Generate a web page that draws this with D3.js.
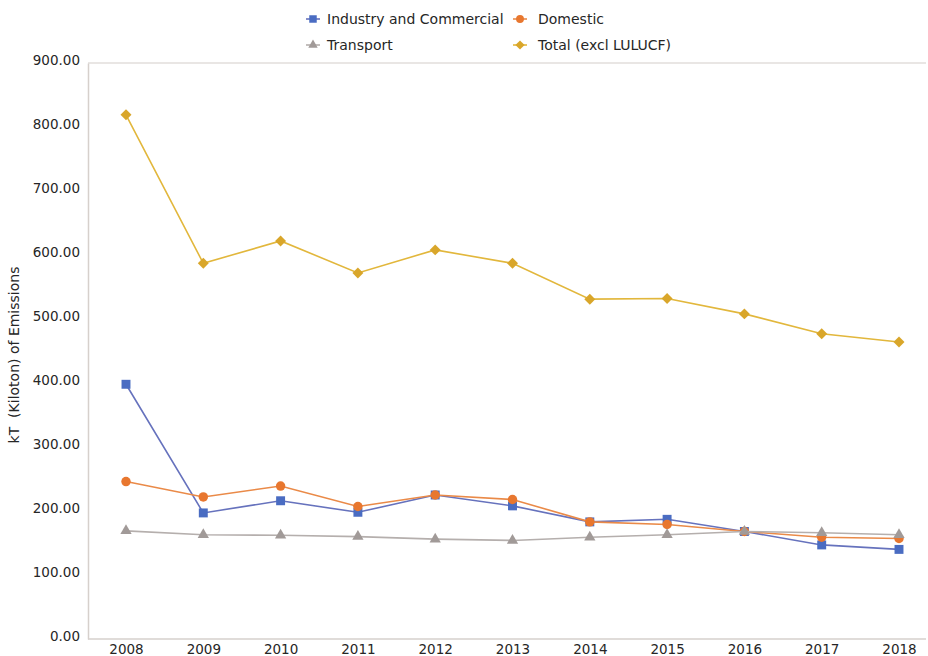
<!DOCTYPE html>
<html>
<head>
<meta charset="utf-8">
<script src="https://cdn.jsdelivr.net/npm/d3@7"></script>
<style>
  body { margin: 0; background: #fff; }
  svg text { font-family: "DejaVu Sans", sans-serif; fill: #262626; }
</style>
</head>
<body>
<svg id="chart" width="928" height="656"></svg>
<script>
// years along the x axis
const years = [2008, 2009, 2010, 2011, 2012, 2013, 2014, 2015, 2016, 2017, 2018];
const industry = [398, 197, 216, 198, 225, 208, 183, 187, 168, 147, 140];
const domestic = [246, 222, 239, 207, 225, 218, 183, 179, 168, 159, 157];
const transport = [169, 163, 162, 160, 156, 154, 159, 163, 168, 166, 163];
const total = [819, 587, 622, 572, 608, 587, 531, 532, 508, 477, 464];
const yTicks = [0, 100, 200, 300, 400, 500, 600, 700, 800, 900];

// square diamond, same width as height
const squareDiamond = {
  draw(ctx, size) {
    const r = Math.sqrt(size / 2);
    ctx.moveTo(0, -r); ctx.lineTo(r, 0); ctx.lineTo(0, r); ctx.lineTo(-r, 0); ctx.closePath();
  }
};

const series = [
  {name: 'Industry and Commercial', values: industry, color: '#4a6cc2', line: '#6672bd', shape: d3.symbolSquare, size: 80},
  {name: 'Domestic', values: domestic, color: '#e8772f', line: '#ea8a48', shape: d3.symbolCircle, size: 70},
  {name: 'Transport', values: transport, color: '#a19a98', line: '#b5afad', shape: d3.symbolTriangle, size: 55},
  {name: 'Total (excl LULUCF)', values: total, color: '#d9a62a', line: '#e2b73c', shape: squareDiamond, size: 60}
];

const svg = d3.select('svg#chart');
const plot = {left: 88, right: 926, top: 63, bottom: 639};

const x = d3.scalePoint().domain(years).range([126, 899]);
const y = d3.scaleLinear().domain([0, 900]).range([plot.bottom, plot.top]);

// frame
svg.append('line')
  .attr('x1', plot.left).attr('x2', plot.right)
  .attr('y1', plot.top).attr('y2', plot.top)
  .attr('stroke', '#e2dedb').attr('stroke-width', 1.5);

const yAxis = svg.append('g')
  .attr('transform', `translate(${plot.left},0)`)
  .call(d3.axisLeft(y).tickValues(yTicks).tickSize(0).tickPadding(8).tickFormat(d3.format('.2f')));
yAxis.select('.domain').attr('stroke', '#d6d0cc').attr('stroke-width', 1.5);
yAxis.selectAll('text').attr('font-size', 13.5).attr('fill', '#262626').attr('dy', '0.1em');

const xAxis = svg.append('g')
  .attr('transform', `translate(0,${plot.bottom})`)
  .call(d3.axisBottom(x).tickSize(0).tickPadding(5).tickFormat(d3.format('d')));
xAxis.select('.domain').attr('d', `M${plot.left},0H${plot.right}`)
  .attr('stroke', '#d6d0cc').attr('stroke-width', 1.5);
xAxis.selectAll('text').attr('font-size', 13.5).attr('fill', '#262626');

svg.append('text')
  .attr('transform', `translate(19,${(plot.top + plot.bottom) / 2 + 4}) rotate(-90)`)
  .attr('text-anchor', 'middle')
  .attr('font-size', 14)
  .style('white-space', 'pre')
  .text('kT  (Kiloton) of Emissions');

const line = d3.line()
  .x((d, i) => x(years[i]))
  .y(d => y(d));

series.forEach(s => {
  svg.append('path')
    .attr('d', line(s.values))
    .attr('fill', 'none')
    .attr('stroke', s.line)
    .attr('stroke-width', 1.6);
  svg.append('g').selectAll('path')
    .data(s.values)
    .join('path')
    .attr('transform', (d, i) => `translate(${x(years[i])},${y(d)})`)
    .attr('d', d3.symbol().type(s.shape).size(s.size))
    .attr('fill', s.color);
});

// legend
const legendPos = [[313, 19], [520, 19], [313, 45], [520, 45]];
series.forEach((s, i) => {
  const [lx, ly] = legendPos[i];
  const g = svg.append('g').attr('transform', `translate(${lx},${ly})`);
  g.append('line').attr('x1', -7).attr('x2', 7).attr('stroke', s.line).attr('stroke-width', 1.6);
  g.append('path').attr('d', d3.symbol().type(s.shape).size(s.size * 0.7)).attr('fill', s.color);
  g.append('text').attr('x', i % 2 ? 18 : 14).attr('dy', '0.35em').attr('font-size', 14).text(s.name);
});
</script>
</body>
</html>
